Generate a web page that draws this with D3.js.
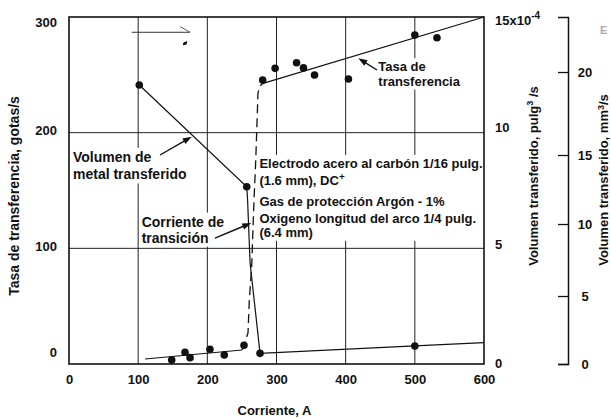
<!DOCTYPE html>
<html><head><meta charset="utf-8">
<script src="https://cdn.jsdelivr.net/npm/d3@7"></script>
<style>
body{margin:0;background:#fff}
text{font-family:"Liberation Sans",Arial,Helvetica,sans-serif;font-weight:bold;fill:#111}
</style>
</head><body>
<svg id="c" width="611" height="419"></svg>
<script>
// ---- data ----
const xTicks = [0,100,200,300,400,500,600];
const rateTicks = [0,100,200,300];
const volTicks = [0,5,10,15];
const mmTicks = [0,5,10,15,20];

// transfer rate (gotas/s): measured points
const rateLowCurrent = [148.5,167.7,175,203.8,224.5,253];
const rateLowValue   = [3.5,10.1,5.5,12.7,7.8,16.2];
const rateHighCurrent = [280,298,329,339,355,404,500,532];
const rateHighValue   = [245.5,255.6,260.5,256,249.8,246.4,284.4,282];
// transfer rate fitted curve
const rateFitLowCurrent = [110,250];
const rateFitLowValue   = [4.3,12.1];
const rateTransCurrent = [250,254.5,258.8,260.7,264.1,267.5,270,273.2,275.5,278.5,283];
const rateTransValue   = [12.1,19,27,55,84,142,176,234,239.5,242,243.1];
const rateFitHighCurrent = [283,600];
const rateFitHighValue   = [243.1,300];

// transferred volume (10^-4 in^3/s)
const volCurrent = [101.6,257,258.2,261.8,276.2,500,600];
const volValue   = [12.06,7.66,7.09,4.37,0.46,0.78,0.92];
const volPointCurrent = [101.6,257,276.2,500];
const volPointValue   = [12.06,7.66,0.46,0.78];

// ---- chart ----
const svg = d3.select("#c");
const x = d3.scaleLinear().domain([0,600]).range([69,484]);
const y = d3.scaleLinear().domain([0,300]).range([364,17]);
const yVol = d3.scaleLinear().domain([0,15]).range([364,17]);
const yMm = d3.scaleLinear().domain([0,5,10,15,20,24.58]).range([364,296,224,155,72,17]);

const gGrid = svg.append("g");
const gMask = svg.append("g");
const gData = svg.append("g");
const gText = svg.append("g");

// grid
gGrid.selectAll("line.v").data(xTicks.slice(1,-1)).join("line")
  .attr("x1",d=>x(d)).attr("x2",d=>x(d)).attr("y1",y(300)).attr("y2",y(0))
  .attr("stroke","#222").attr("stroke-width",1);
gGrid.selectAll("line.h").data([100,200]).join("line")
  .attr("x1",x(0)).attr("x2",x(600)).attr("y1",d=>y(d)).attr("y2",d=>y(d))
  .attr("stroke","#222").attr("stroke-width",1);

// frame
svg.append("rect").attr("x",x(0)).attr("y",y(300)).attr("width",x(600)-x(0)).attr("height",y(0)-y(300))
  .attr("fill","none").attr("stroke","#111").attr("stroke-width",1.6);

// axes
const axL = svg.append("g").attr("transform",`translate(${x(0)},0)`)
  .call(d3.axisLeft(y).tickValues(rateTicks).tickSize(0).tickPadding(12));
axL.select(".domain").remove();
axL.selectAll(".tick text").attr("font-size",13)
  .attr("dy",d=>d===0?"-0.55em":d===300?"0.7em":"0.17em");

const axB = svg.append("g").attr("transform",`translate(0,${y(0)})`)
  .call(d3.axisBottom(x).tickValues(xTicks).tickSize(0).tickPadding(11));
axB.select(".domain").remove();
axB.selectAll(".tick text").attr("font-size",13);

const axR = svg.append("g").attr("transform",`translate(${x(600)},0)`)
  .call(d3.axisRight(yVol).tickValues(volTicks).tickSize(0).tickPadding(11).tickFormat(""));
axR.select(".domain").remove();
axR.selectAll(".tick text").attr("font-size",13)
  .attr("dy",d=>d===15?"0.55em":d===10?"-0.09em":d===5?"0.04em":"0.27em")
  .each(function(d){
    const t=d3.select(this);
    if(d===15){
      t.append("tspan").text("15x10");
      t.append("tspan").attr("font-size",10).attr("dy",-6).text("-4");
    } else t.text(d);
  });

const axM = svg.append("g").attr("transform","translate(568,0)")
  .call(d3.axisRight(yMm).tickValues(mmTicks).tickSizeInner(-10).tickSizeOuter(-10).tickPadding(17));
axM.select(".domain").attr("stroke","#111").attr("stroke-width",1.5);
axM.selectAll(".tick line").attr("stroke","#111").attr("stroke-width",1.3);
axM.selectAll(".tick text").attr("font-size",13).attr("text-anchor","middle");

// axis titles
svg.append("text").attr("x",274.5).attr("y",415).attr("text-anchor","middle").attr("font-size",13).text("Corriente, A");
svg.append("text").attr("transform","translate(19,196) rotate(-90)").attr("text-anchor","middle").attr("font-size",14)
  .text("Tasa de transferencia, gotas/s");
const t1 = svg.append("text").attr("transform","translate(538,176) rotate(-90)").attr("text-anchor","middle").attr("font-size",13);
t1.append("tspan").text("Volumen transferido, pulg");
t1.append("tspan").attr("font-size",9).attr("dy",-5).text("3");
t1.append("tspan").attr("dy",5).text(" /s");
const t2 = svg.append("text").attr("transform","translate(608,180) rotate(-90)").attr("text-anchor","middle").attr("font-size",13);
t2.append("tspan").text("Volumen transferido, mm");
t2.append("tspan").attr("font-size",9).attr("dy",-4).text("3");
t2.append("tspan").attr("dy",4).text("/s");
svg.append("text").attr("x",600).attr("y",34).attr("font-size",11).attr("font-weight","normal").style("fill","#aaa").text("E");

// annotations (positions in data units)
function label(lines, A, g, size){
  const grp = gText.append("g");
  lines.forEach((ln,i)=>{
    const t = grp.append("text").attr("x",x(A)).attr("y",y(g[i])).attr("dy","0.35em").attr("font-size",size);
    if(Array.isArray(ln)){
      t.append("tspan").text(ln[0]);
      t.append("tspan").attr("font-size",size*0.75).attr("dy",-5).text(ln[1]);
    } else t.text(ln);
  });
  const b = grp.node().getBBox();
  gMask.append("rect").attr("x",b.x-1).attr("y",b.y-1).attr("width",b.width+3).attr("height",b.height+2).attr("fill","#fff");
}
label(["Volumen de","metal transferido"], 5.8, [179,163.8], 14);
label(["Corriente de","transición"], 105, [123,109.2], 14);
label(["Electrodo acero al carbón 1/16 pulg.", ["(1.6 mm), DC","+"], "Gas de protección Argón - 1%",
       "Oxigeno longitud del arco 1/4 pulg.", "(6.4 mm)"], 275.3, [173.5,159.1,140.3,126,113.9], 13);
label(["Tasa de","transferencia"], 447.2, [257,244.7], 13);

// data lines
const line = (cs,vs,ys)=>d3.line().x(i=>x(cs[i])).y(i=>ys(vs[i]))(d3.range(cs.length));
gData.append("path").attr("d",line(rateFitLowCurrent,rateFitLowValue,y)).attr("fill","none").attr("stroke","#111").attr("stroke-width",1.2);
gData.append("path").attr("d",line(rateTransCurrent,rateTransValue,y)).attr("fill","none").attr("stroke","#111").attr("stroke-width",1.3).attr("stroke-dasharray","9,5");
gData.append("path").attr("d",line(rateFitHighCurrent,rateFitHighValue,y)).attr("fill","none").attr("stroke","#111").attr("stroke-width",1.2);
gData.append("path").attr("d",line(volCurrent,volValue,yVol)).attr("fill","none").attr("stroke","#111").attr("stroke-width",1.2);

gData.selectAll("circle.lo").data(d3.range(rateLowCurrent.length)).join("circle")
  .attr("cx",i=>x(rateLowCurrent[i])).attr("cy",i=>y(rateLowValue[i])).attr("r",3.8).attr("fill","#111");
gData.selectAll("circle.hi").data(d3.range(rateHighCurrent.length)).join("circle")
  .attr("cx",i=>x(rateHighCurrent[i])).attr("cy",i=>y(rateHighValue[i])).attr("r",3.8).attr("fill","#111");
gData.selectAll("circle.vol").data(d3.range(volPointCurrent.length)).join("circle")
  .attr("cx",i=>x(volPointCurrent[i])).attr("cy",i=>yVol(volPointValue[i])).attr("r",3.8).attr("fill","#111");

// arrows
function arrow(a0,g0,a1,g1){
  const X0=x(a0),Y0=y(g0),X1=x(a1),Y1=y(g1);
  const ang=Math.atan2(Y1-Y0,X1-X0), L=9, Wd=3.2;
  gData.append("line").attr("x1",X0).attr("y1",Y0).attr("x2",X1-Math.cos(ang)*L*0.8).attr("y2",Y1-Math.sin(ang)*L*0.8)
    .attr("stroke","#111").attr("stroke-width",1.4);
  const bx=X1-Math.cos(ang)*L, by=Y1-Math.sin(ang)*L;
  gData.append("path").attr("d",`M${X1},${Y1}L${bx-Math.sin(ang)*Wd},${by+Math.cos(ang)*Wd}L${bx+Math.sin(ang)*Wd},${by-Math.cos(ang)*Wd}Z`).attr("fill","#111");
}
arrow(131.6,180.7,177.4,196.5);
arrow(211.1,108.9,263.5,121.9);
arrow(445.3,254.2,418.3,264.3);

// small right-pointing mark near the top
gData.append("line").attr("x1",x(90.6)).attr("x2",x(174.9)).attr("y1",y(286.8)).attr("y2",y(286.8)).attr("stroke","#333").attr("stroke-width",1);
gData.append("line").attr("x1",x(161)).attr("y1",y(291.6)).attr("x2",x(174.9)).attr("y2",y(286.8)).attr("stroke","#555").attr("stroke-width",1);
gData.append("path").attr("d",`M${x(165.5)},${y(278)}L${x(171)},${y(279.2)}L${x(170)},${y(276.3)}L${x(164.5)},${y(275.5)}Z`).attr("fill","#111");
</script>
</body></html>
